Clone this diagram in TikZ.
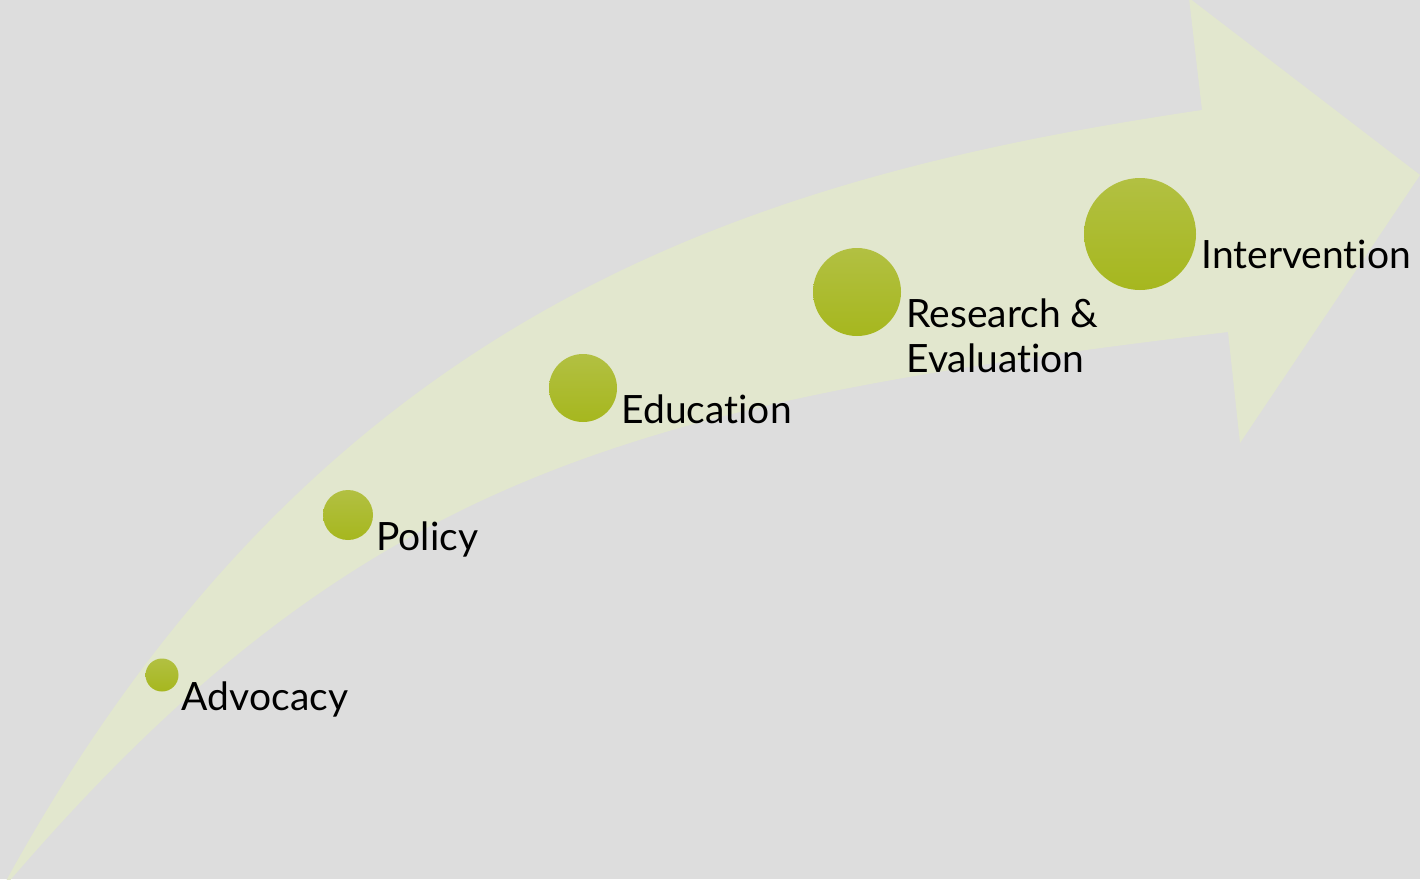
\documentclass[tikz,border=0pt]{standalone}
\usepackage{fontspec}
\setmainfont{Lato}[Ligatures={NoCommon}]
\usetikzlibrary{calc}
\definecolor{bgGrey}{RGB}{221,221,221}
\definecolor{bandGreen}{RGB}{226,231,206}
\definecolor{dotTop}{RGB}{178,192,66}
\definecolor{dotBottom}{RGB}{166,183,30}
\begin{document}
\begin{tikzpicture}[x=1pt, y=-1pt,
	dot/.style={circle, inner sep=0pt, minimum size=#1, top color=dotTop, middle color=dotBottom, bottom color=dotBottom},
	lbl/.style={anchor=base west, inner sep=0pt, align=left, text=black, font=\fontsize{39}{45}\selectfont}]
	\fill[bgGrey] (0,0) rectangle (1420,879);
	\useasboundingbox (0,0) rectangle (1420,879);
	\clip (0,0) rectangle (1420,879);
	% curved band with its head
	\fill[bandGreen] (0,892) .. controls (317,307) and (752,177) .. (1202,110) -- (1189,-2) -- (1420,175) -- (1240,443) -- (1228,332) .. controls (628,404) and (355,475) .. (0,892) -- cycle;
	% the five steps
	\node[dot=33pt] (adv) at (162,675) {};
	\node[dot=50pt] (pol) at (348,515) {};
	\node[dot=68pt] (edu) at (583,388) {};
	\node[dot=88pt] (res) at (857,292) {};
	\node[dot=112pt] (int) at (1140,234) {};
	\node[lbl] (advL) at ($(adv.east)+(3,35)$) {Advocacy};
	\node[lbl] (polL) at ($(pol.east)+(3,35)$) {Policy};
	\node[lbl] (eduL) at ($(edu.east)+(4,35)$) {Education};
	% base of a two-line node is its last line
	\node[lbl] (resL) at ($(res.east)+(5,80)$) {Research \&\\Evaluation};
	\node[lbl] (intL) at ($(int.east)+(5,34)$) {Intervention};
\end{tikzpicture}
\end{document}
